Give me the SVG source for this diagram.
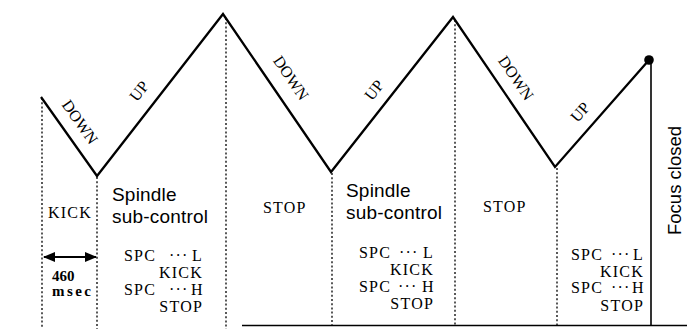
<svg xmlns="http://www.w3.org/2000/svg" width="687" height="329" viewBox="0 0 687 329">
<style>
.wave{fill:none;stroke:#000;stroke-width:2.3;stroke-linejoin:miter}
.dot{fill:none;stroke:#000;stroke-width:1.3;stroke-dasharray:2,2.2}
.solid{fill:none;stroke:#000;stroke-width:1.6}
.serif{font-family:"Liberation Serif","Times New Roman",serif;font-size:16px;letter-spacing:1.2px;fill:#000}
.lbl{font-family:"Liberation Serif","Times New Roman",serif;font-size:16px;fill:#000}
.sans{font-family:"Liberation Sans",Arial,sans-serif;font-size:19px;letter-spacing:0.2px;fill:#000}
.ms{font-family:"Liberation Serif","Times New Roman",serif;font-size:15px;font-weight:bold;fill:#000}
</style>
<defs>
<marker id="ah" viewBox="0 0 12 10" refX="11" refY="5" markerWidth="12" markerHeight="10" markerUnits="userSpaceOnUse" orient="auto-start-reverse">
<path d="M0,0 L12,5 L0,10 Z" fill="#000"/>
</marker>
</defs>
<g id="connectors">
<polyline id="waveform" class="wave" points="41,97 97,176 223,14 331,172 453,17 555,167 649,60"/>
<circle cx="649" cy="60" r="4.8" fill="#000"/>
<line class="dot" x1="42" y1="98" x2="42" y2="329"/>
<line class="dot" x1="97" y1="177" x2="97" y2="329"/>
<line class="dot" x1="226" y1="18" x2="226" y2="329"/>
<line class="dot" x1="332" y1="173" x2="332" y2="325"/>
<line class="dot" x1="455" y1="20" x2="455" y2="325"/>
<line class="dot" x1="557" y1="168" x2="557" y2="325"/>
<line class="solid" x1="651" y1="60" x2="651" y2="325"/>
<line class="solid" x1="242" y1="325.5" x2="687" y2="325.5"/>
<line id="dur-arrow" stroke="#000" stroke-width="2" x1="44" y1="257" x2="96" y2="257" marker-start="url(#ah)" marker-end="url(#ah)"/>
</g>
<g id="slope-labels">
<text class="lbl" text-anchor="middle" transform="translate(80,122) rotate(55)" y="5.5">DOWN</text>
<text class="lbl" text-anchor="middle" transform="translate(139,91) rotate(-52)" y="5.5">UP</text>
<text class="lbl" text-anchor="middle" transform="translate(291,78) rotate(55.6)" y="5.5">DOWN</text>
<text class="lbl" text-anchor="middle" transform="translate(374,90) rotate(-51.8)" y="5.5">UP</text>
<text class="lbl" text-anchor="middle" transform="translate(516,78) rotate(55.8)" y="5.5">DOWN</text>
<text class="lbl" text-anchor="middle" transform="translate(580,112) rotate(-48.7)" y="5.5">UP</text>
</g>
<g id="kick-phase">
<text class="serif" x="48" y="218">KICK</text>
<text class="ms" x="52" y="281">460</text>
<text class="ms" x="52" y="296" letter-spacing="2.4">msec</text>
</g>
<g id="spindle-1">
<text class="sans" x="112" y="201">Spindle</text>
<text class="sans" x="112" y="223">sub-control</text>
<text class="serif" x="124" y="261">SPC<tspan x="169">···</tspan><tspan x="192">L</tspan></text>
<text class="serif" x="203" y="278" text-anchor="end">KICK</text>
<text class="serif" x="124" y="295">SPC<tspan x="169">···</tspan><tspan x="191">H</tspan></text>
<text class="serif" x="203" y="312" text-anchor="end">STOP</text>
</g>
<g id="stop-1">
<text class="serif" x="263" y="213">STOP</text>
</g>
<g id="spindle-2">
<text class="sans" x="346" y="197">Spindle</text>
<text class="sans" x="346" y="219">sub-control</text>
<text class="serif" x="359" y="258">SPC<tspan x="399">···</tspan><tspan x="423">L</tspan></text>
<text class="serif" x="434" y="275" text-anchor="end">KICK</text>
<text class="serif" x="359" y="292">SPC<tspan x="398">···</tspan><tspan x="422">H</tspan></text>
<text class="serif" x="434" y="309" text-anchor="end">STOP</text>
</g>
<g id="stop-2">
<text class="serif" x="483" y="212">STOP</text>
</g>
<g id="spindle-3">
<text class="serif" x="571" y="260">SPC<tspan x="611">···</tspan><tspan x="633">L</tspan></text>
<text class="serif" x="644" y="277" text-anchor="end">KICK</text>
<text class="serif" x="571" y="293">SPC<tspan x="611">···</tspan><tspan x="632">H</tspan></text>
<text class="serif" x="644" y="311" text-anchor="end">STOP</text>
</g>
<g id="focus-closed">
<text class="sans" transform="translate(681,235) rotate(-90)" style="font-size:18.5px;letter-spacing:0">Focus closed</text>
</g>
</svg>
